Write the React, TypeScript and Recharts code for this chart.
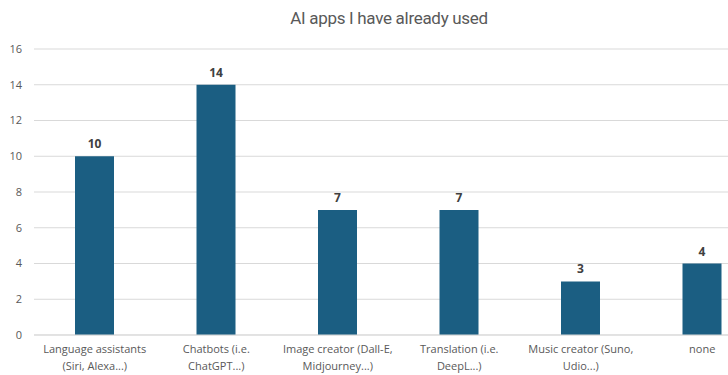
import { BarChart, Bar, XAxis, YAxis, CartesianGrid, LabelList } from "recharts";

const categories = [
  "Language assistants (Siri, Alexa...)",
  "Chatbots (i.e. ChatGPT...)",
  "Image creator (Dall-E, Midjourney...)",
  "Translation (i.e. DeepL...)",
  "Music creator (Suno, Udio...)",
  "none",
];
const tickLines = [
  ["Language assistants", "(Siri, Alexa...)"],
  ["Chatbots (i.e.", "ChatGPT...)"],
  ["Image creator (Dall-E,", "Midjourney...)"],
  ["Translation (i.e.", "DeepL...)"],
  ["Music creator (Suno,", "Udio...)"],
  ["none"],
];
const counts = [10, 14, 7, 7, 3, 4];
const yTicks = [0, 2, 4, 6, 8, 10, 12, 14, 16];

const data = categories.map((name, i) => ({ name, value: counts[i], idx: i }));

const CatTick = (props: any) => {
  const { x, y, index } = props;
  const lines = tickLines[index] || [];
  return (
    <g transform={`translate(${x},${y})`}>
      {lines.map((l, i) => (
        <text
          key={i}
          x={0}
          y={i * 17 + 10}
          textAnchor="middle"
          fill="#595959"
          fontSize={11}
          fontFamily="Open Sans, sans-serif"
        >
          {l}
        </text>
      ))}
    </g>
  );
};

export default function App() {
  return (
    <div
      style={{
        position: "absolute",
        left: 0,
        top: 0,
        width: 728,
        height: 375,
        overflow: "hidden",
        background: "#fff",
      }}
    >
      <div
        style={{
          position: "absolute",
          top: 8,
          left: 282,
          width: 214,
          textAlign: "center",
          fontFamily: "Roboto, sans-serif",
          fontSize: 17,
          color: "#595959",
          whiteSpace: "nowrap",
          letterSpacing: -0.3,
        }}
      >
        AI apps I have already used
      </div>
      <BarChart
        width={763}
        height={375}
        data={data}
        margin={{ top: 49, right: 0, bottom: 0, left: 0 }}
      >
        <CartesianGrid vertical={false} stroke="#d9d9d9" />
        <XAxis
          dataKey="name"
          interval={0}
          tickLine={false}
          axisLine={{ stroke: "#d9d9d9" }}
          height={40}
          tick={<CatTick />}
        />
        <YAxis
          width={34}
          domain={[0, 16]}
          ticks={yTicks}
          tickLine={false}
          axisLine={false}
          tickMargin={6}
          tick={{ fill: "#595959", fontSize: 11, fontFamily: "Open Sans, sans-serif" }}
        />
        <Bar dataKey="value" fill="#1b5e82" barSize={39} isAnimationActive={false}>
          <LabelList
            dataKey="value"
            position="top"
            offset={8}
            fill="#404040"
            fontSize={12}
            fontWeight="bold"
            fontFamily="Open Sans, sans-serif"
          />
        </Bar>
      </BarChart>
    </div>
  );
}
